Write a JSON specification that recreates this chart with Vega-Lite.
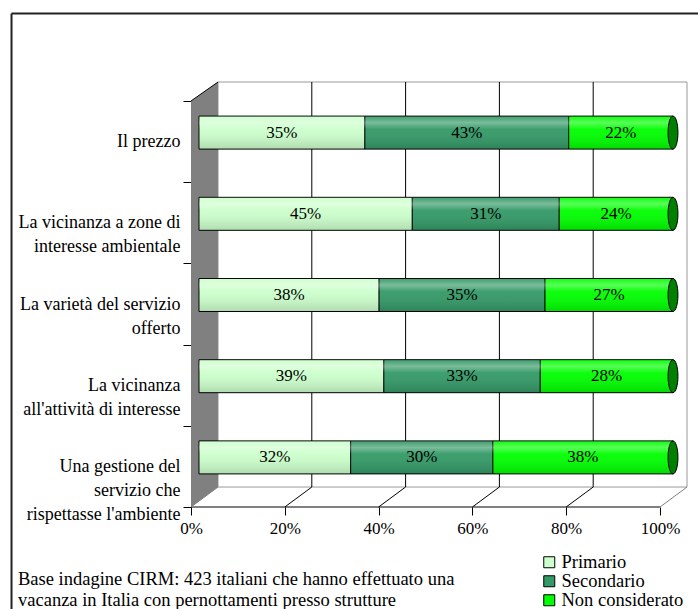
{
  "$schema": "https://vega.github.io/schema/vega-lite/v6.json",
  "width": 496,
  "height": 425,
  "autosize": {"type": "none"},
  "padding": {"left": 191, "top": 82, "right": 11, "bottom": 102},
  "background": "white",
  "config": {
    "view": {"stroke": null},
    "font": "Liberation Serif, serif",
    "text": {"font": "Liberation Serif, serif"},
    "axis": {"labelFont": "Liberation Serif, serif"},
    "legend": {"labelFont": "Liberation Serif, serif"},
    "title": {"font": "Liberation Serif, serif"}
  },
  "datasets": {
    "survey": [
      {"category": "Il prezzo", "series": "Primario", "value": 0.35},
      {"category": "Il prezzo", "series": "Secondario", "value": 0.43},
      {"category": "Il prezzo", "series": "Non considerato", "value": 0.22},
      {"category": "La vicinanza a zone di|interesse ambientale", "series": "Primario", "value": 0.45},
      {"category": "La vicinanza a zone di|interesse ambientale", "series": "Secondario", "value": 0.31},
      {"category": "La vicinanza a zone di|interesse ambientale", "series": "Non considerato", "value": 0.24},
      {"category": "La varietà del servizio|offerto", "series": "Primario", "value": 0.38},
      {"category": "La varietà del servizio|offerto", "series": "Secondario", "value": 0.35},
      {"category": "La varietà del servizio|offerto", "series": "Non considerato", "value": 0.27},
      {"category": "La vicinanza|all'attività di interesse", "series": "Primario", "value": 0.39},
      {"category": "La vicinanza|all'attività di interesse", "series": "Secondario", "value": 0.33},
      {"category": "La vicinanza|all'attività di interesse", "series": "Non considerato", "value": 0.28},
      {"category": "Una gestione del|servizio che|rispettasse l'ambiente", "series": "Primario", "value": 0.32},
      {"category": "Una gestione del|servizio che|rispettasse l'ambiente", "series": "Secondario", "value": 0.30},
      {"category": "Una gestione del|servizio che|rispettasse l'ambiente", "series": "Non considerato", "value": 0.38}
    ]
  },
  "title": {
    "text": ["Base indagine CIRM: 423 italiani che hanno effettuato una", "vacanza in Italia con pernottamenti presso strutture"],
    "orient": "bottom",
    "anchor": "start",
    "frame": "group",
    "dx": -173,
    "offset": -40,
    "fontSize": 18.5,
    "font": "Liberation Serif, serif",
    "fontWeight": "normal",
    "lineHeight": 21,
    "color": "black"
  },
  "layer": [
    {
      "encoding": {
        "x": {"field": "x", "type": "quantitative",
          "scale": {"domain": [0, 1.0576], "nice": false, "zero": false},
          "axis": {"orient": "bottom", "values": [0, 0.2, 0.4, 0.6, 0.8, 1], "format": ".0%", "domain": false, "grid": false, "ticks": true, "tickSize": 8, "tickColor": "black", "labelFontSize": 17, "labelFont": "Liberation Serif, serif", "labelColor": "black", "labelPadding": 5, "labelFlush": false, "title": null}},
        "y": {"field": "y", "type": "quantitative",
          "scale": {"domain": [0, 5.234], "nice": false, "zero": false},
          "axis": null}
      },
      "layer": [
        {
          "data": {"values": [{"x": 0.0576, "x2": 1.0576, "y": 0.246, "y2": 5.234}]},
          "mark": {"type": "rect", "fill": "white", "stroke": "#999999", "strokeWidth": 1},
          "encoding": {"x2": {"field": "x2"}, "y2": {"field": "y2"}}
        },
        {
          "data": {"values": [{"x": 0, "y": 0, "y2": 5}, {"x": 0.0576, "y": 0.246, "y2": 5.234}]},
          "mark": {"type": "area", "orient": "vertical", "fill": "#808080"},
          "encoding": {"y2": {"field": "y2"}}
        },
        {
          "data": {"values": [
            {"x": 0, "y": 5, "x2": 0.0576, "y2": 5.234},
            {"x": 0, "y": 0, "x2": 1, "y2": 0},
            {"x": 0.2, "y": 0, "x2": 0.2576, "y2": 0.246},
            {"x": 0.4, "y": 0, "x2": 0.4576, "y2": 0.246},
            {"x": 0.6, "y": 0, "x2": 0.6576, "y2": 0.246},
            {"x": 0.8, "y": 0, "x2": 0.8576, "y2": 0.246},
            {"x": 0.2576, "y": 0.246, "x2": 0.2576, "y2": 5.234},
            {"x": 0.4576, "y": 0.246, "x2": 0.4576, "y2": 5.234},
            {"x": 0.6576, "y": 0.246, "x2": 0.6576, "y2": 5.234},
            {"x": 0.8576, "y": 0.246, "x2": 0.8576, "y2": 5.234}
          ]},
          "mark": {"type": "rule", "color": "black", "strokeWidth": 1},
          "encoding": {"x2": {"field": "x2"}, "y2": {"field": "y2"}}
        },
        {
          "data": {"values": [
            {"x": 1, "y": 0, "x2": 1.0576, "y2": 0.246},
            {"x": 0, "y": 0, "x2": 0.0576, "y2": 0.246}
          ]},
          "mark": {"type": "rule", "color": "#808080", "strokeWidth": 1},
          "encoding": {"x2": {"field": "x2"}, "y2": {"field": "y2"}}
        },
        {
          "data": {"values": [
            {"x": -0.3827, "y": 6.078, "x2": -0.3827, "y2": -1.26},
            {"x": -0.3827, "y": 6.078, "x2": 1.09, "y2": 6.078}
          ]},
          "mark": {"type": "rule", "color": "#222222", "strokeWidth": 2},
          "encoding": {"x2": {"field": "x2"}, "y2": {"field": "y2"}}
        }
      ]
    },
    {
      "data": {"name": "survey"},
      "transform": [{"filter": "datum.series === 'Primario'"}],
      "mark": {"type": "rule", "opacity": 0},
      "encoding": {
        "y": {"field": "category", "type": "nominal", "sort": null,
          "scale": {"range": [19, 425], "paddingInner": 0, "paddingOuter": 0},
          "axis": {"orient": "left", "title": null, "domain": true, "domainColor": "black", "ticks": true, "tickBand": "extent", "tickSize": 8, "tickColor": "black", "labelPadding": 3, "labelFontSize": 18, "labelFont": "Liberation Serif, serif", "labelColor": "black", "labelLineHeight": 24, "labelLimit": 300, "labelExpr": "split(datum.label, '|')", "labelAlign": "right", "labelBaseline": "middle", "grid": false}}
      }
    },
    {
      "data": {"name": "survey"},
      "transform": [{"stack": "value", "groupby": ["category"], "as": ["s0", "s1"]}],
      "encoding": {
        "y": {"field": "category", "type": "nominal", "sort": null,
          "scale": {"range": [10, 416], "paddingInner": 0, "paddingOuter": 0},
          "axis": null}
      },
      "layer": [
        {
          "mark": {"type": "bar", "size": 33, "stroke": "black", "strokeWidth": 1},
          "encoding": {
            "x": {"field": "s0", "type": "quantitative", "scale": {"domain": [0, 1], "range": [8, 482], "nice": false, "zero": false}, "axis": null},
            "x2": {"field": "s1"},
            "color": {"field": "series", "type": "nominal",
              "scale": {"domain": ["Primario", "Secondario", "Non considerato"], "range": ["#ccffcc", "#339966", "#00ff00"]},
              "legend": {"orient": "none", "legendX": 349, "legendY": 471, "title": null, "symbolType": "square", "symbolSize": 121, "symbolStrokeColor": "black", "symbolStrokeWidth": 1, "symbolOpacity": 1, "labelFontSize": 18.5, "labelFont": "Liberation Serif, serif", "labelColor": "black", "labelOffset": 3, "rowPadding": -2.5, "padding": 0}}
          }
        },
        {
          "mark": {"type": "bar", "size": 33, "stroke": null,
            "fill": {"gradient": "linear", "x1": 0, "y1": 0, "x2": 0, "y2": 1,
              "stops": [
                {"offset": 0, "color": "rgba(255,255,255,0.05)"},
                {"offset": 0.2, "color": "rgba(255,255,255,0.35)"},
                {"offset": 0.4, "color": "rgba(255,255,255,0.05)"},
                {"offset": 1, "color": "rgba(0,0,0,0.14)"}
              ]}},
          "encoding": {
            "x": {"field": "s0", "type": "quantitative", "axis": null},
            "x2": {"field": "s1"}
          }
        },
        {
          "transform": [{"filter": "datum.series === 'Non considerato'"}],
          "mark": {"type": "point", "shape": "M0,-1A0.3,1,0,1,1,0,1A0.3,1,0,1,1,0,-1Z", "size": 1089, "filled": true, "fill": "#008000", "stroke": "black", "strokeWidth": 1, "opacity": 1},
          "encoding": {
            "x": {"field": "s1", "type": "quantitative", "axis": null}
          }
        },
        {
          "transform": [
            {"fold": ["s0", "s1"], "as": ["k", "pos"]},
            {"aggregate": [{"op": "mean", "field": "pos", "as": "mid"}, {"op": "max", "field": "value", "as": "value"}], "groupby": ["category", "series"]}
          ],
          "mark": {"type": "text", "fontSize": 17, "color": "black", "font": "Liberation Serif, serif", "align": "center", "baseline": "middle"},
          "encoding": {
            "x": {"field": "mid", "type": "quantitative", "axis": null},
            "text": {"field": "value", "type": "quantitative", "format": ".0%"}
          }
        }
      ]
    }
  ],
  "resolve": {"scale": {"x": "independent", "y": "independent"}}
}
